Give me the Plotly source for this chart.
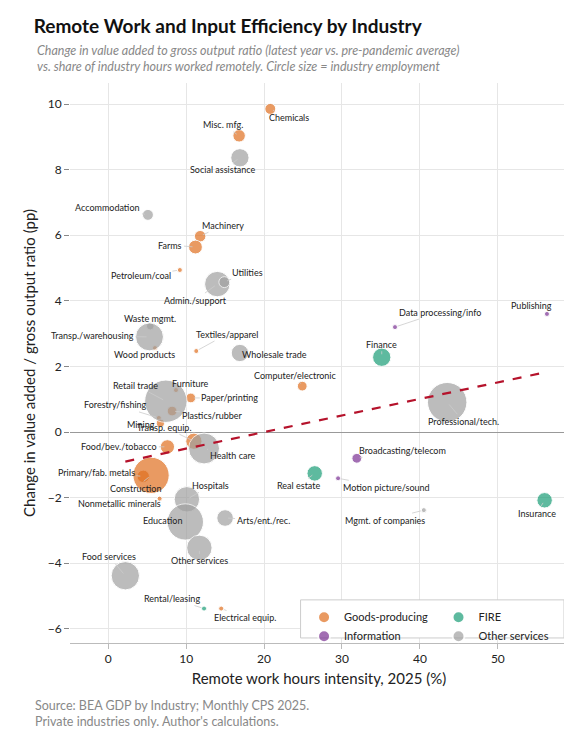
import numpy as np
import plotly.graph_objects as go

# industries: name, sector, remote share (%), change in VA/GO ratio (pp), employment (thousands)
industries = ["Chemicals", "Misc. mfg.", "Social assistance", "Accommodation", "Machinery", "Farms",
              "Petroleum/coal", "Admin./support", "Utilities", "Waste mgmt.", "Transp./warehousing",
              "Wood products", "Textiles/apparel", "Wholesale trade", "Retail trade", "Furniture",
              "Paper/printing", "Plastics/rubber", "Forestry/fishing", "Mining", "Transp. equip.",
              "Food/bev./tobacco", "Health care", "Primary/fab. metals", "Construction", "Hospitals",
              "Nonmetallic minerals", "Education", "Arts/ent./rec.", "Other services", "Food services",
              "Rental/leasing", "Electrical equip.", "Computer/electronic", "Data processing/info",
              "Publishing", "Finance", "Professional/tech.", "Broadcasting/telecom", "Real estate",
              "Motion picture/sound", "Mgmt. of companies", "Insurance"]
sector = ["G", "G", "O", "O", "G", "G",
          "G", "O", "O", "O", "O",
          "G", "G", "O", "O", "G",
          "G", "G", "G", "G", "G",
          "G", "O", "G", "G", "O",
          "G", "O", "O", "O", "O",
          "F", "G", "G", "I",
          "I", "F", "O", "I", "F",
          "I", "O", "F"]
remote = [20.8, 16.8, 16.9, 5.1, 11.8, 11.2,
          9.2, 14.0, 14.9, 5.4, 5.3,
          6.0, 11.3, 16.9, 7.4, 8.7,
          10.6, 8.2, 6.5, 6.7, 11.0,
          7.6, 12.3, 4.5, 5.5, 10.1,
          6.6, 9.9, 15.0, 11.7, 2.2,
          12.3, 14.5, 24.9, 36.8,
          56.3, 35.1, 43.5, 31.9, 26.5,
          29.5, 40.5, 56.0]
change = [9.85, 9.03, 8.36, 6.62, 5.97, 5.64,
          4.94, 4.51, 4.57, 3.23, 2.90,
          2.56, 2.47, 2.41, 0.94, 1.28,
          1.04, 0.64, 0.43, 0.27, -0.28,
          -0.45, -0.50, -1.35, -1.32, -2.05,
          -2.03, -2.74, -2.62, -3.53, -4.38,
          -5.38, -5.38, 1.40, 3.20,
          3.60, 2.28, 0.91, -0.80, -1.26,
          -1.41, -2.38, -2.08]
employment = [1000, 1300, 2800, 1000, 1100, 1600,
              150, 5400, 1000, 500, 6500,
              200, 150, 2500, 15000, 200,
              800, 800, 150, 550, 2200,
              1700, 8000, 1300, 11000, 5400,
              150, 11000, 2300, 5400, 6700,
              200, 200, 800, 150,
              150, 2800, 13000, 800, 2000,
              150, 150, 2000]
# label offsets (px) from the point
label_dx = [19, -16, -17, -40, 23, -25, -39, -22, 23, 0, -57, -10, 31, 35, -30, 15, 39, 40, -43, -19,
            -29, -48, 28, -47, -16, 24, -40, -23, 38, 0, -16, -32, 24, -7, 45, -15, 0, 16, 46, -16, 48, -39, -8]
label_dy = [9, -11, 12, -7, -11, -2, 6, 16, -10, -8, -1, 6, -17, 2, -16, -7, 0, 4, -13, 1,
            -14, 0, 7, -4, 13, -14, 5, -1, 2, 13, -19, -10, 9, -11, -15, -8, -13, 19, -8, 12, 9, 10, 13]

sector_names = {"G": "Goods-producing", "I": "Information", "F": "FIRE", "O": "Other services"}
sector_colors = {"G": "#E07020", "I": "#7B3294", "F": "#1B9E77", "O": "#A0A0A0"}
sector_legend = {"G": "legend", "I": "legend", "F": "legend2", "O": "legend2"}

fit_slope, fit_intercept = 0.0505, -1.01

remote = np.array(remote)
change = np.array(change)
employment = np.array(employment)
sector = np.array(sector)

fig = go.Figure()
for s in ["G", "I", "F", "O"]:
    m = sector == s
    fig.add_trace(go.Scatter(
        x=remote[m], y=change[m], mode="markers", name=sector_names[s], legend=sector_legend[s],
        marker=dict(size=employment[m], sizemode="area", sizeref=16.7, sizemin=2.5,
                    color=sector_colors[s], line=dict(color="white", width=1)),
        hovertext=np.array(industries)[m]))

xl = np.array([remote.min(), remote.max()])
fig.add_trace(go.Scatter(x=xl, y=fit_intercept + fit_slope * xl, mode="lines",
                         line=dict(color="#B5122B", width=2.2, dash="dash"), showlegend=False))

for name, x, y, dx, dy in zip(industries, remote, change, label_dx, label_dy):
    fig.add_annotation(x=x, y=y, text=name, ax=dx, ay=dy, showarrow=True, arrowhead=0,
                       arrowwidth=0.8, arrowcolor="#CCCCCC", standoff=3,
                       font=dict(size=9, color="#222"))

fig.add_annotation(xref="paper", yref="paper", x=-0.07, y=1.075, xanchor="left", yanchor="top",
                   showarrow=False, align="left",
                   text="<i>Change in value added to gross output ratio (latest year vs. pre-pandemic average)<br>"
                        "vs. share of industry hours worked remotely. Circle size = industry employment</i>",
                   font=dict(size=12.5, color="#888"))
fig.add_annotation(xref="paper", yref="paper", x=-0.075, y=-0.095, xanchor="left", yanchor="top",
                   showarrow=False, align="left",
                   text="Source: BEA GDP by Industry; Monthly CPS 2025.<br>Private industries only. Author's calculations.",
                   font=dict(size=12.5, color="#888"))
# box around both legend columns
fig.add_shape(type="rect", xref="paper", yref="paper", x0=0.463, x1=0.992, y0=0.009, y1=0.077,
              line=dict(color="#CCCCCC", width=1), fillcolor="white", layer="above")

legend_style = dict(yanchor="top", y=0.072, bgcolor="rgba(0,0,0,0)", itemsizing="constant",
                    font=dict(size=11), traceorder="normal", tracegroupgap=0)

fig.update_layout(
    width=572, height=734, template="plotly_white",
    font=dict(family="Lato, Noto Sans, sans-serif", color="#222"),
    title=dict(text="<b>Remote Work and Input Efficiency by Industry</b>", x=0.045, y=0.984,
               xanchor="left", yanchor="top", font=dict(size=19, color="#111")),
    margin=dict(l=62, r=12, t=75, b=99, autoexpand=False),
    xaxis=dict(title=dict(text="Remote work hours intensity, 2025 (%)", font=dict(size=15), standoff=8),
               range=[-4.9, 59], tickvals=[0, 10, 20, 30, 40, 50], zeroline=False, automargin=False,
               gridcolor="#E6E6E6", showline=True, linecolor="#BBBBBB", ticks="outside",
               ticklen=5, tickcolor="#BBBBBB"),
    yaxis=dict(title=dict(text="Change in value added / gross output ratio (pp)", font=dict(size=15), standoff=8),
               range=[-6.43, 10.64], tickvals=[-6, -4, -2, 0, 2, 4, 6, 8, 10], zeroline=True,
               automargin=False, zerolinecolor="#999", zerolinewidth=1, gridcolor="#E6E6E6",
               ticks="outside", ticklen=5, tickcolor="#888"),
    legend=dict(x=0.47, xanchor="left", **legend_style),
    legend2=dict(x=0.74, xanchor="left", **legend_style),
)
fig.write_html("out.html")
